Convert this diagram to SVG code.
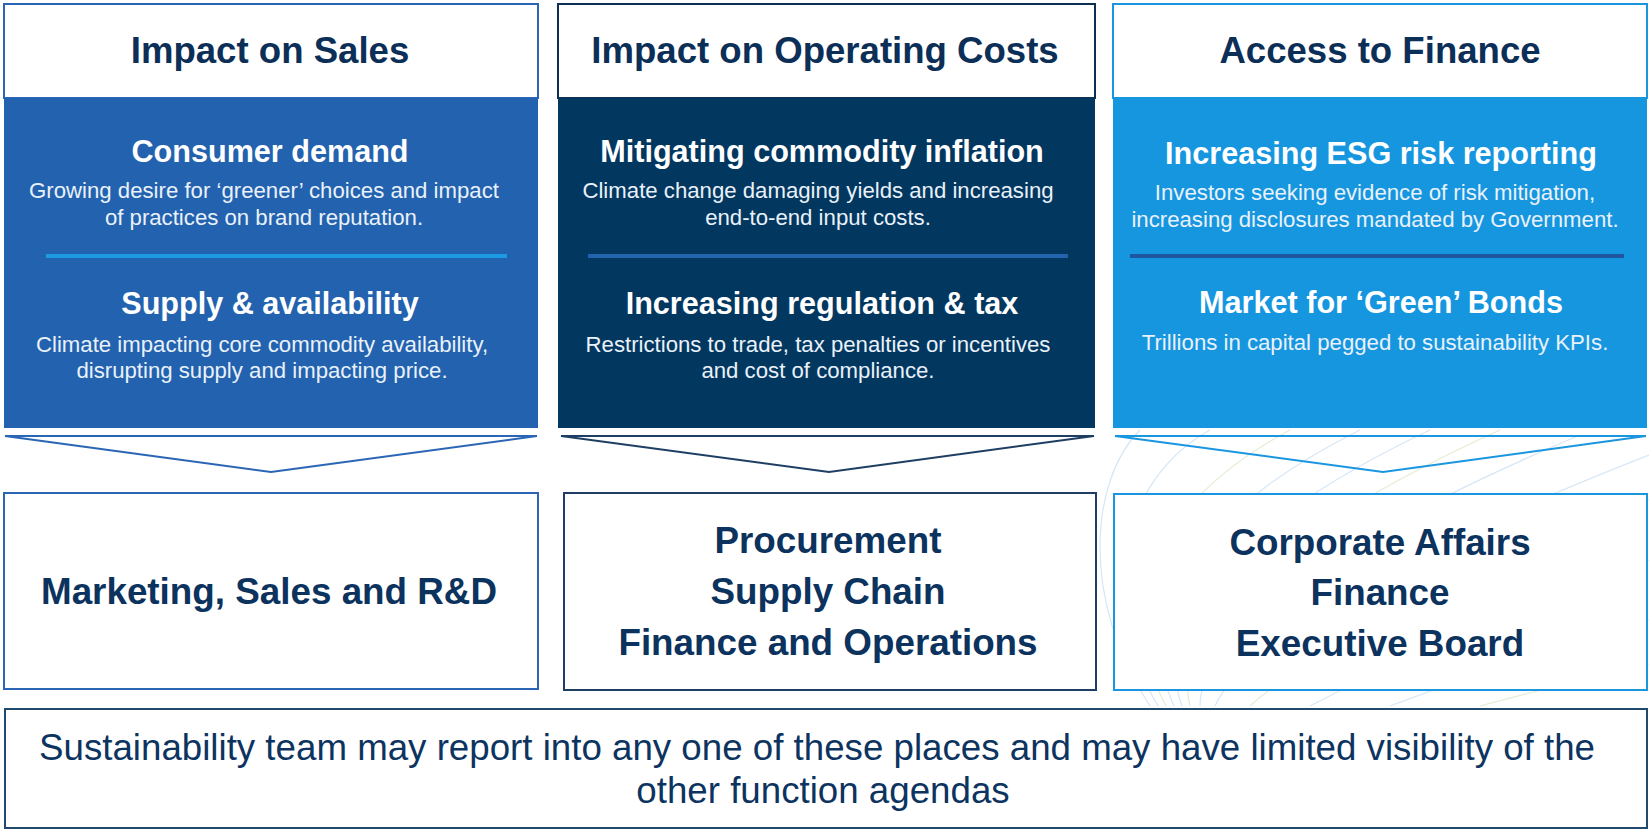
<svg xmlns="http://www.w3.org/2000/svg" width="1649" height="830" viewBox="0 0 1649 830">
  <style>
    .hdr { font-family: "Liberation Sans", Arial, sans-serif; font-weight: bold; font-size: 36.6px; fill: #0c2f58; text-anchor: middle; }
    .sub { font-family: "Liberation Sans", Arial, sans-serif; font-weight: bold; font-size: 30.6px; fill: #ffffff; text-anchor: middle; }
    .desc { font-family: "Liberation Sans", Arial, sans-serif; font-size: 22.2px; fill: #e9f1fa; text-anchor: middle; }
    .fn { font-family: "Liberation Sans", Arial, sans-serif; font-weight: bold; font-size: 36.8px; fill: #0c325e; text-anchor: middle; }
    .note { font-family: "Liberation Sans", Arial, sans-serif; font-size: 36.7px; fill: #0d3460; text-anchor: middle; }
    .box { fill: #ffffff; stroke-width: 2; }
    .chev { fill: none; stroke-width: 2; stroke-linejoin: miter; }
    .swirl { fill: none; stroke-width: 1.2; }
  </style>

  <rect width="1649" height="830" fill="#ffffff"/>

  <!-- faint decorative sweep behind the right-hand column -->
  <g id="backdrop" opacity="0.6">
    <path class="swirl" stroke="#bcd7f0" d="M1150,706 C1080,600 1090,480 1140,430"/>
    <path class="swirl" stroke="#bcd7f0" d="M1158,706 C1095,600 1120,480 1210,430"/>
    <path class="swirl" stroke="#cfe3b8" d="M1166,706 C1110,600 1160,500 1290,430"/>
    <path class="swirl" stroke="#bcd7f0" d="M1174,706 C1130,610 1200,510 1360,430"/>
    <path class="swirl" stroke="#bcd7f0" d="M1182,706 C1150,620 1240,520 1430,430"/>
    <path class="swirl" stroke="#cfe3b8" d="M1190,706 C1170,630 1280,530 1500,430"/>
    <path class="swirl" stroke="#bcd7f0" d="M1200,706 C1200,640 1320,545 1580,435"/>
    <path class="swirl" stroke="#bcd7f0" d="M1215,706 C1240,650 1380,560 1649,455"/>
    <path class="swirl" stroke="#cfe3b8" d="M1250,706 C1300,660 1440,580 1649,500"/>
    <path class="swirl" stroke="#bcd7f0" d="M1310,706 C1380,670 1500,610 1649,560"/>
    <path class="swirl" stroke="#bcd7f0" d="M1390,706 C1460,680 1560,645 1649,620"/>
    <path class="swirl" stroke="#cfe3b8" d="M1480,706 C1540,690 1600,675 1649,665"/>
  </g>

  <!-- column 1: sales -->
  <g id="col-sales">
    <rect class="box" x="4" y="4" width="534" height="94" stroke="#2a66b5"/>
    <text class="hdr" x="270" y="63">Impact on Sales</text>
    <rect x="4" y="98" width="534" height="330" fill="#2362ae"/>
    <text class="sub" x="270" y="162">Consumer demand</text>
    <text class="desc" x="264" y="198">Growing desire for ‘greener’ choices and impact</text>
    <text class="desc" x="264" y="225">of practices on brand reputation.</text>
    <line x1="46" y1="256" x2="507" y2="256" stroke="#1a9be2" stroke-width="4"/>
    <text class="sub" x="270" y="314">Supply &amp; availability</text>
    <text class="desc" x="262" y="352">Climate impacting core commodity availability,</text>
    <text class="desc" x="262" y="378">disrupting supply and impacting price.</text>
  </g>

  <!-- column 2: operating costs -->
  <g id="col-costs">
    <rect class="box" x="558" y="4" width="537" height="94" stroke="#0d2f54"/>
    <text class="hdr" x="825" y="63">Impact on Operating Costs</text>
    <rect x="558" y="98" width="537" height="330" fill="#02375f"/>
    <text class="sub" x="822" y="162">Mitigating commodity inflation</text>
    <text class="desc" x="818" y="198">Climate change damaging yields and increasing</text>
    <text class="desc" x="818" y="225">end-to-end input costs.</text>
    <line x1="588" y1="256" x2="1068" y2="256" stroke="#2263ad" stroke-width="4"/>
    <text class="sub" x="822" y="314">Increasing regulation &amp; tax</text>
    <text class="desc" x="818" y="352">Restrictions to trade, tax penalties or incentives</text>
    <text class="desc" x="818" y="378">and cost of compliance.</text>
  </g>

  <!-- column 3: finance -->
  <g id="col-finance">
    <rect class="box" x="1113" y="4" width="534" height="94" stroke="#1a96e0"/>
    <text class="hdr" x="1380" y="63">Access to Finance</text>
    <rect x="1113" y="98" width="534" height="330" fill="#1596df"/>
    <text class="sub" x="1381" y="164">Increasing ESG risk reporting</text>
    <text class="desc" x="1375" y="200">Investors seeking evidence of risk mitigation,</text>
    <text class="desc" x="1375" y="227">increasing disclosures mandated by Government.</text>
    <line x1="1130" y1="256" x2="1624" y2="256" stroke="#1f56a0" stroke-width="4"/>
    <text class="sub" x="1381" y="313">Market for ‘Green’ Bonds</text>
    <text class="desc" x="1375" y="350">Trillions in capital pegged to sustainability KPIs.</text>
  </g>

  <!-- down-pointing chevrons linking each column to its functions -->
  <g id="connectors">
    <polygon class="chev" points="5,436 537,436 271,472" stroke="#2a66b5"/>
    <polygon class="chev" points="561,436 1094,436 829,472" stroke="#1e3f63"/>
    <polygon class="chev" points="1115,436 1646,436 1383,472" stroke="#1a96e0"/>
  </g>

  <!-- functions reached by each driver -->
  <g id="fn-sales">
    <rect class="box" x="4" y="493" width="534" height="196" stroke="#2a66b5"/>
    <text class="fn" x="269" y="604">Marketing, Sales and R&amp;D</text>
  </g>
  <g id="fn-costs">
    <rect class="box" x="564" y="493" width="532" height="197" stroke="#1e3f63"/>
    <text class="fn" x="828" y="553">Procurement</text>
    <text class="fn" x="828" y="604">Supply Chain</text>
    <text class="fn" x="828" y="655">Finance and Operations</text>
  </g>
  <g id="fn-finance">
    <rect class="box" x="1114" y="494" width="533" height="196" stroke="#1a96e0"/>
    <text class="fn" x="1380" y="555">Corporate Affairs</text>
    <text class="fn" x="1380" y="605">Finance</text>
    <text class="fn" x="1380" y="656">Executive Board</text>
  </g>

  <!-- closing note -->
  <g id="note">
    <rect class="box" x="5" y="709" width="1642" height="119" stroke="#1f4a6e"/>
    <text class="note" x="817" y="760">Sustainability team may report into any one of these places and may have limited visibility of the</text>
    <text class="note" x="823" y="803">other function agendas</text>
  </g>
</svg>
